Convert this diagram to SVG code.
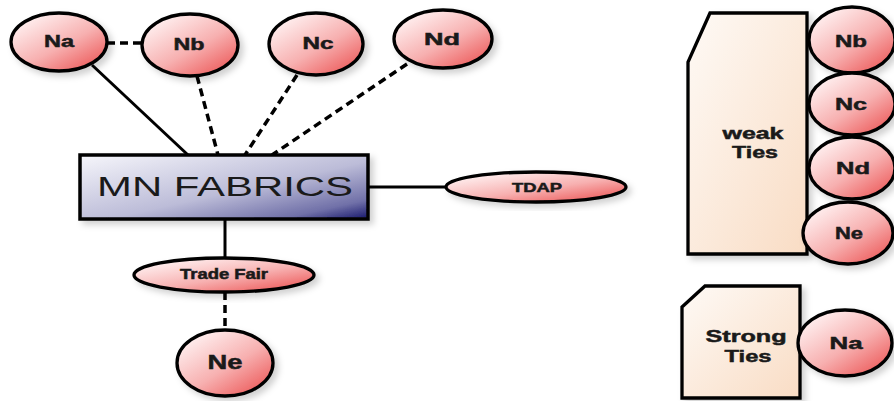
<svg xmlns="http://www.w3.org/2000/svg" width="894" height="401" viewBox="0 0 894 401">
<defs>
<linearGradient id="gPink" x1="0.15" y1="0.1" x2="0.95" y2="1">
<stop offset="0" stop-color="#fff0f0"/>
<stop offset="0.5" stop-color="#f7b0b0"/>
<stop offset="1" stop-color="#eb4c4c"/>
</linearGradient>
<linearGradient id="gRect" x1="0" y1="0" x2="1" y2="1">
<stop offset="0" stop-color="#f6f6fb"/>
<stop offset="0.55" stop-color="#bcbcd8"/>
<stop offset="0.85" stop-color="#7070a8"/>
<stop offset="1" stop-color="#15156a"/>
</linearGradient>
<linearGradient id="gPeach" x1="0" y1="0" x2="1" y2="1">
<stop offset="0" stop-color="#fefaf6"/>
<stop offset="1" stop-color="#f9dcc4"/>
</linearGradient>
<filter id="sh" x="-20%" y="-20%" width="150%" height="150%">
<feDropShadow dx="4" dy="4" stdDeviation="3" flood-color="#000" flood-opacity="0.18"/>
</filter>
</defs>
<style>
.nd{fill:url(#gPink);stroke:#000;stroke-width:3.3;filter:url(#sh)}
.bx{fill:url(#gRect);stroke:#000;stroke-width:3.5;filter:url(#sh)}
.pc{fill:url(#gPeach);stroke:#000;stroke-width:3.3;filter:url(#sh)}
.lb{font-family:"Liberation Sans",Arial,sans-serif;font-weight:bold;fill:#1a1a1a;stroke:#1a1a1a;stroke-width:0.5;text-anchor:middle}
.big{font-family:"Liberation Sans",Arial,sans-serif;fill:#1a1a1a;text-anchor:middle}
.ln{stroke:#000;stroke-width:3;fill:none}
.ds{stroke:#000;stroke-width:3.5;fill:none;stroke-dasharray:8 5}
</style>
<rect width="894" height="401" fill="#fff"/>
<g id="connectors">
<line class="ds" x1="107" y1="43" x2="142" y2="43"/>
<line class="ln" x1="92" y1="65" x2="188" y2="155"/>
<line class="ds" x1="197" y1="76" x2="218" y2="155"/>
<line class="ds" x1="297" y1="75" x2="245" y2="155"/>
<line class="ds" x1="407" y1="64" x2="272" y2="155"/>
<line class="ln" x1="368" y1="187" x2="446" y2="187"/>
<line class="ln" x1="225" y1="219" x2="225" y2="258"/>
<line class="ds" x1="225" y1="292" x2="225" y2="330"/>
</g>
<g id="Na">
<ellipse class="nd" cx="59" cy="42" rx="48" ry="29"/>
<text class="lb" x="59" y="47" font-size="17" textLength="30" lengthAdjust="spacingAndGlyphs">Na</text>
</g>
<g id="Nb">
<ellipse class="nd" cx="190" cy="45" rx="48" ry="31"/>
<text class="lb" x="189" y="50" font-size="17" textLength="31" lengthAdjust="spacingAndGlyphs">Nb</text>
</g>
<g id="Nc">
<ellipse class="nd" cx="316" cy="44" rx="47" ry="31"/>
<text class="lb" x="318" y="49" font-size="17" textLength="31" lengthAdjust="spacingAndGlyphs">Nc</text>
</g>
<g id="Nd">
<ellipse class="nd" cx="443" cy="39" rx="49" ry="29"/>
<text class="lb" x="442" y="45" font-size="17" textLength="36" lengthAdjust="spacingAndGlyphs">Nd</text>
</g>
<g id="MNFabrics">
<rect class="bx" x="80" y="155" width="288" height="64"/>
<text class="big" x="225" y="196" font-size="28" textLength="256" lengthAdjust="spacingAndGlyphs">MN FABRICS</text>
</g>
<g id="TDAP">
<ellipse class="nd" cx="536" cy="187" rx="90" ry="15"/>
<text class="lb" x="537" y="192" font-size="13" textLength="50" lengthAdjust="spacingAndGlyphs">TDAP</text>
</g>
<g id="TradeFair">
<ellipse class="nd" cx="224" cy="275" rx="90" ry="17"/>
<text class="lb" x="224" y="279" font-size="14" textLength="88" lengthAdjust="spacingAndGlyphs">Trade Fair</text>
</g>
<g id="Ne">
<ellipse class="nd" cx="225" cy="363" rx="48" ry="33"/>
<text class="lb" x="225" y="369" font-size="20" textLength="35" lengthAdjust="spacingAndGlyphs">Ne</text>
</g>
<g id="WeakTies">
<polygon class="pc" points="710,13 807,13 807,254 688,254 688,62"/>
<text class="lb" x="753" y="139" font-size="17" textLength="61" lengthAdjust="spacingAndGlyphs">weak</text>
<text class="lb" x="755" y="158" font-size="17" textLength="46" lengthAdjust="spacingAndGlyphs">Ties</text>
</g>
<g id="Nb2">
<ellipse class="nd" cx="852" cy="40" rx="43" ry="33"/>
<text class="lb" x="851" y="47" font-size="17" textLength="32" lengthAdjust="spacingAndGlyphs">Nb</text>
</g>
<g id="Nc2">
<ellipse class="nd" cx="852" cy="104" rx="43" ry="31"/>
<text class="lb" x="851" y="110" font-size="17" textLength="32" lengthAdjust="spacingAndGlyphs">Nc</text>
</g>
<g id="Nd2">
<ellipse class="nd" cx="852" cy="168" rx="43" ry="31"/>
<text class="lb" x="853" y="174" font-size="17" textLength="34" lengthAdjust="spacingAndGlyphs">Nd</text>
</g>
<g id="Ne2">
<ellipse class="nd" cx="848" cy="233" rx="45" ry="31"/>
<text class="lb" x="849" y="239" font-size="17" textLength="28" lengthAdjust="spacingAndGlyphs">Ne</text>
</g>
<g id="StrongTies">
<polygon class="pc" points="705,286 800,286 800,398 682,398 682,307"/>
<text class="lb" x="746" y="342" font-size="17" textLength="81" lengthAdjust="spacingAndGlyphs">Strong</text>
<text class="lb" x="748" y="362" font-size="17" textLength="47" lengthAdjust="spacingAndGlyphs">Ties</text>
</g>
<g id="Na2">
<ellipse class="nd" cx="845" cy="343" rx="47" ry="33"/>
<text class="lb" x="846" y="349" font-size="17" textLength="33" lengthAdjust="spacingAndGlyphs">Na</text>
</g>
</svg>
